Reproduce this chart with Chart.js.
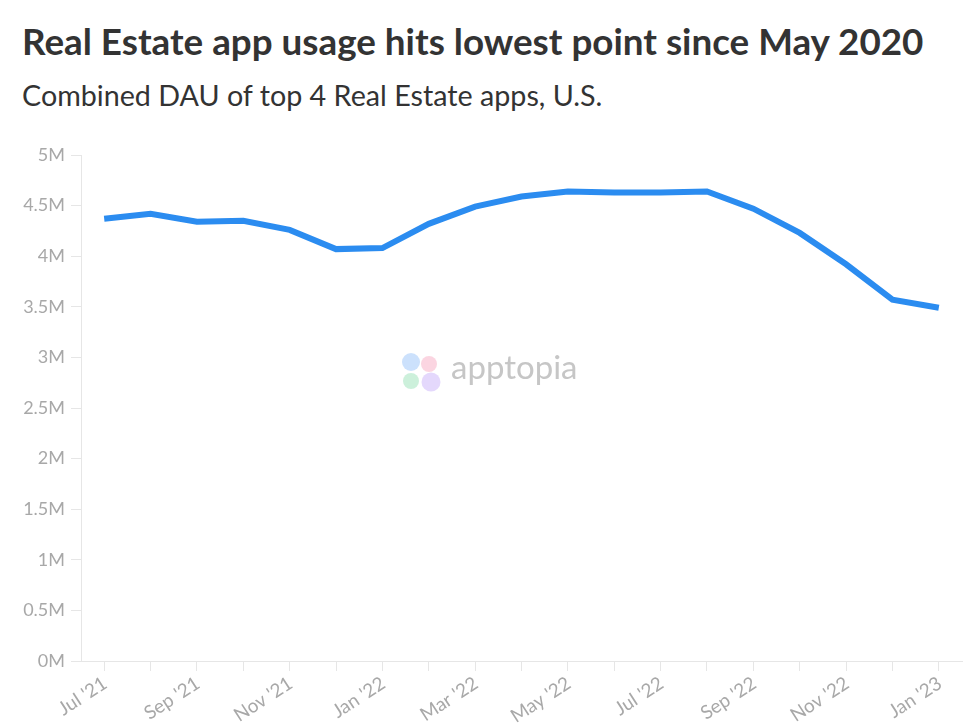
<!DOCTYPE html>
<html>
<head>
<meta charset="utf-8">
<script src="https://cdn.jsdelivr.net/npm/chart.js@4"></script>
<style>
  body { margin: 0; background: #fff; width: 980px; height: 725px; overflow: hidden; position: relative; font-family: Lato, sans-serif; }
  #titre { position: absolute; left: 22px; top: 19px; margin: 0; font-size: 36.8px; font-weight: 700; color: #333; white-space: nowrap; }
  #sous-titre { position: absolute; left: 22px; top: 78px; margin: 0; font-size: 28.7px; font-weight: 400; color: #333; white-space: nowrap; }
  #zone { position: absolute; left: 0; top: 0; width: 980px; height: 725px; }
</style>
</head>
<body>
<h1 id="titre">Real Estate app usage hits lowest point since May 2020</h1>
<h2 id="sous-titre">Combined DAU of top 4 Real Estate apps, U.S.</h2>
<div id="zone"><canvas id="graph-dau"></canvas></div>
<script>
// Données (DAU combinés)
const mois = ["Jul '21", "Aug '21", "Sep '21", "Oct '21", "Nov '21", "Dec '21", "Jan '22",
  "Feb '22", "Mar '22", "Apr '22", "May '22", "Jun '22", "Jul '22", "Aug '22",
  "Sep '22", "Oct '22", "Nov '22", "Dec '22", "Jan '23"];
const dau = [4370000, 4420000, 4340000, 4350000, 4260000, 4070000, 4080000,
  4320000, 4490000, 4590000, 4640000, 4630000, 4630000, 4640000,
  4470000, 4230000, 3920000, 3570000, 3490000];
const yTicks = [0, 500000, 1000000, 1500000, 2000000, 2500000, 3000000, 3500000, 4000000, 4500000, 5000000];

// Filigrane apptopia
const filigrane = {
  id: 'filigrane',
  beforeDatasetsDraw(chart) {
    const c = chart.ctx;
    c.save();
    const bulles = [
      [411, 362, 9, 'rgba(170,205,250,0.6)'],
      [429, 364, 8, 'rgba(248,185,205,0.6)'],
      [411, 381, 8, 'rgba(170,230,195,0.6)'],
      [431, 382, 9.5, 'rgba(210,190,250,0.6)']
    ];
    bulles.forEach(b => {
      c.beginPath();
      c.arc(b[0], b[1], b[2], 0, Math.PI * 2);
      c.fillStyle = b[3];
      c.fill();
    });
    c.fillStyle = '#c6c6c6';
    c.font = '400 33px Lato, sans-serif';
    c.textBaseline = 'alphabetic';
    c.fillText('apptopia', 451, 379);
    c.restore();
  }
};

const ctx = document.getElementById('graph-dau').getContext('2d');
window.dauChart = new Chart(ctx, {
  type: 'line',
  data: {
    labels: mois,
    datasets: [{
      label: 'DAU',
      data: dau,
      borderColor: '#2b8cf0',
      borderWidth: 6,
      pointRadius: 0,
      tension: 0,
      fill: false
    }]
  },
  options: {
    responsive: true,
    maintainAspectRatio: false,
    animation: false,
    layout: { padding: { top: 155, right: 18, left: 0, bottom: 0 } },
    plugins: {
      legend: { display: false },
      tooltip: { enabled: false }
    },
    scales: {
      x: {
        offset: true,
        afterFit: function(scale) {
          scale.height = 64;
        },
        border: { display: true, color: '#e6e6e6', width: 1 },
        grid: { display: true, drawOnChartArea: false, offset: false, color: '#e6e6e6', tickLength: 10 },
        ticks: {
          autoSkip: false,
          minRotation: 33,
          maxRotation: 33,
          color: '#a8a8a8',
          font: { family: 'Lato', size: 19 },
          padding: 1,
          labelOffset: 1,
          callback: function(value, index) {
            return index % 2 === 0 ? mois[index] : '';
          }
        }
      },
      y: {
        min: 0,
        max: 5000000,
        afterBuildTicks: function(scale) {
          scale.ticks = yTicks.map(v => ({ value: v }));
        },
        afterFit: function(scale) {
          scale.width = 81;
        },
        border: { display: true, color: '#e6e6e6', width: 1 },
        grid: { display: true, drawOnChartArea: false, color: '#e6e6e6', tickLength: 10 },
        ticks: {
          color: '#a8a8a8',
          font: { family: 'Lato', size: 18 },
          padding: 6,
          callback: function(value) {
            return (value / 1000000) + 'M';
          }
        }
      }
    }
  },
  plugins: [filigrane]
});
</script>
</body>
</html>
